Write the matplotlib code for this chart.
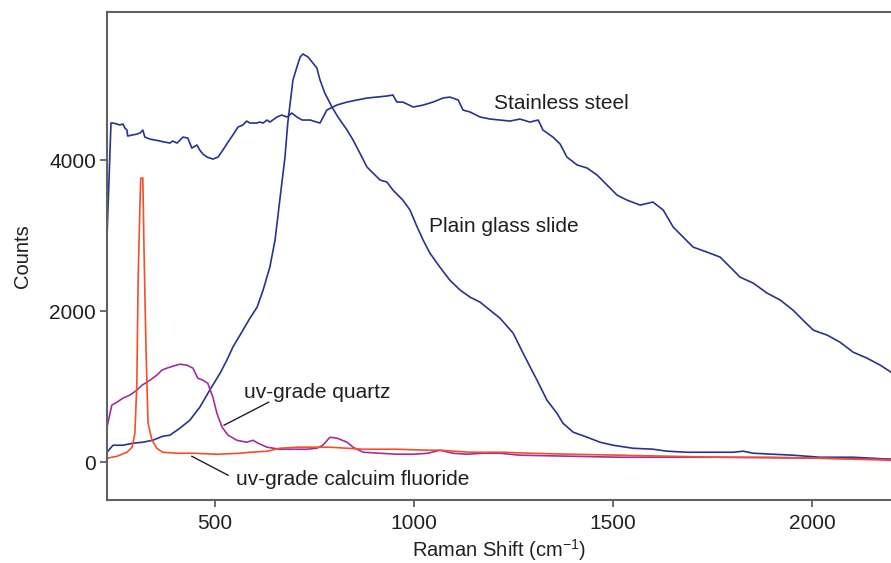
import numpy as np
import matplotlib
matplotlib.use("Agg")
import matplotlib.pyplot as plt

plt.rcParams["font.family"] = ["Liberation Sans", "DejaVu Sans"]
plt.rcParams["mathtext.fontset"] = "custom"
plt.rcParams["mathtext.rm"] = "Liberation Sans"

# stainless steel
ss_x = [229, 239, 244, 254, 261, 269, 274, 279, 281, 292, 304, 312, 319, 324, 337, 349, 362, 374, 387, 394,
        405, 420, 432, 442, 455, 462, 470, 480, 495, 508, 520, 533, 545, 558, 570, 580, 588, 605, 613, 621,
        631, 638, 656, 668, 681, 693, 706, 719, 739, 764, 781, 806, 832, 857, 882, 907, 932, 947, 957, 972,
        998, 1023, 1048, 1073, 1090, 1111, 1123, 1141, 1166, 1191, 1216, 1241, 1266, 1291, 1312, 1324, 1349, 1367, 1384, 1410,
        1435, 1460, 1485, 1510, 1535, 1568, 1600, 1626, 1651, 1676, 1701, 1736, 1769, 1794, 1819, 1852, 1887, 1920, 1952, 1977,
        2003, 2038, 2070, 2103, 2138, 2171, 2198]
ss_y = [2980, 4490, 4490, 4477, 4464, 4477, 4424, 4397, 4318, 4331, 4344, 4358, 4397, 4304, 4278, 4265, 4252, 4238, 4225, 4252,
        4225, 4304, 4291, 4159, 4199, 4132, 4079, 4040, 4013, 4040, 4132, 4238, 4331, 4437, 4464, 4516, 4490, 4490, 4503, 4490,
        4530, 4503, 4570, 4596, 4570, 4622, 4570, 4530, 4530, 4490, 4662, 4728, 4768, 4795, 4821, 4834, 4848, 4861, 4768, 4768,
        4702, 4728, 4768, 4821, 4834, 4795, 4662, 4636, 4570, 4543, 4530, 4516, 4543, 4503, 4530, 4397, 4304, 4212, 4040, 3934,
        3894, 3801, 3669, 3536, 3470, 3404, 3444, 3338, 3113, 2980, 2848, 2781, 2715, 2583, 2450, 2371, 2238, 2146, 2013, 1881,
        1748, 1682, 1589, 1457, 1377, 1285, 1192]

# plain glass slide
pg_x = [229, 244, 269, 294, 319, 344, 369, 387, 412, 437, 462, 487, 513, 530, 545, 563, 588, 606, 621, 638,
        651, 663, 676, 683, 696, 706, 714, 721, 734, 746, 756, 764, 776, 794, 809, 832, 847, 864, 882, 897,
        915, 932, 947, 972, 990, 1008, 1023, 1040, 1065, 1090, 1116, 1141, 1166, 1191, 1216, 1249, 1274, 1292, 1309, 1334,
        1359, 1374, 1400, 1435, 1467, 1500, 1550, 1601, 1636, 1686, 1736, 1802, 1827, 1852, 1902, 1952, 2020, 2103, 2198]
pg_y = [132, 225, 225, 252, 265, 291, 344, 358, 450, 556, 728, 954, 1179, 1351, 1523, 1682, 1907, 2053, 2278, 2583,
        2940, 3470, 4040, 4490, 5060, 5232, 5364, 5404, 5364, 5285, 5219, 5060, 4887, 4702, 4570, 4397, 4265, 4093, 3907, 3828,
        3735, 3709, 3603, 3470, 3338, 3113, 2940, 2768, 2583, 2411, 2278, 2185, 2119, 2013, 1907, 1709, 1444, 1258, 1086, 821,
        649, 517, 397, 331, 265, 225, 185, 172, 146, 132, 132, 132, 146, 119, 106, 93, 66, 66, 40]

# uv-grade quartz
q_x = [229, 241, 254, 269, 286, 304, 317, 337, 354, 367, 379, 395, 412, 430, 445, 457, 470, 482, 495, 505,
       518, 533, 555, 580, 596, 608, 631, 663, 696, 731, 756, 771, 789, 807, 832, 847, 872, 915, 957, 998,
       1035, 1065, 1098, 1133, 1173, 1216, 1266, 1518, 1769, 2020, 2198]
q_y = [464, 755, 795, 848, 887, 954, 1020, 1086, 1152, 1219, 1245, 1272, 1298, 1285, 1245, 1113, 1086, 1046, 861, 649,
       464, 358, 291, 265, 291, 252, 199, 172, 172, 172, 185, 225, 331, 318, 265, 199, 132, 119, 106, 106,
       119, 159, 119, 106, 119, 119, 93, 66, 66, 53, 40]

# uv-grade calcium fluoride
caf_x = [229, 254, 279, 292, 299, 304, 307, 312, 314, 319, 322, 327, 332, 342, 354, 369, 405, 445, 505, 563,
         588, 631, 663, 706, 746, 789, 832, 872, 957, 1035, 1065, 1141, 1224, 1292, 1392, 1518, 1643, 1769, 1895, 2020,
         2198]
caf_y = [53, 79, 132, 199, 384, 1046, 2371, 3470, 3762, 3762, 2808, 1483, 517, 291, 185, 132, 119, 119, 106, 119,
         132, 146, 185, 199, 199, 199, 185, 172, 172, 159, 159, 132, 132, 119, 106, 93, 79, 66, 66, 53,
         26]

BLUE = "#2a3290"
PURPLE = "#a0309a"
ORANGE = "#f2502a"
TXT = "#231f20"
GREY = "#606164"

fig = plt.figure(figsize=(8.91, 5.63), dpi=100)
ax = fig.add_axes([107/891, 63/563, 1 - 107/891, 488/563])

ax.plot(ss_x, ss_y, color=BLUE, lw=1.2)
ax.plot(pg_x, pg_y, color=BLUE, lw=1.2)
ax.plot(q_x, q_y, color=PURPLE, lw=1.2)
ax.plot(caf_x, caf_y, color=ORANGE, lw=1.2)

ax.set_xlim(229, 2198)
ax.set_ylim(-500, 5960)
ax.set_xticks([500, 1000, 1500, 2000])
ax.set_yticks([0, 2000, 4000])

for s in ["left", "bottom", "top"]:
    ax.spines[s].set_color(GREY)
    ax.spines[s].set_linewidth(1.5)
ax.spines["right"].set_visible(False)
ax.tick_params(direction="out", length=5, width=1.3, color=GREY, labelsize=15, labelcolor=TXT)
ax.tick_params(axis="y", pad=3)
ax.tick_params(axis="x", pad=5)

ax.set_xlabel("Raman Shift (cm$^{-1}$)", fontsize=14.5, color=TXT, labelpad=3)
ax.set_ylabel("Counts", fontsize=14.5, color=TXT, labelpad=12)

ax.text(1201, 4755, "Stainless steel", fontsize=15, color=TXT, va="center")
ax.text(1038, 3126, "Plain glass slide", fontsize=15, color=TXT, va="center")
ax.text(573, 927, "uv-grade quartz", fontsize=15, color=TXT, va="center")
ax.text(553, -225, "uv-grade calcuim fluoride", fontsize=15, color=TXT, va="center")
ax.plot([523, 635], [490, 795], color=TXT, lw=1)
ax.plot([442, 533], [79, -172], color=TXT, lw=1)

fig.savefig("out.png", dpi=100)
